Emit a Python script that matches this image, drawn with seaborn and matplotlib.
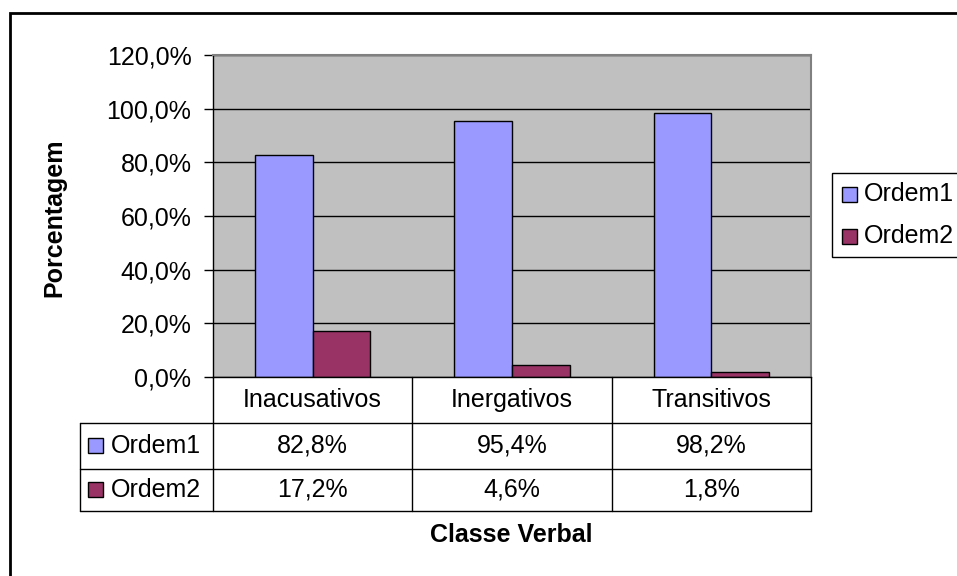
import numpy as np
import pandas as pd
import matplotlib
matplotlib.use("Agg")
import matplotlib.pyplot as plt
import matplotlib.transforms as mtransforms
from matplotlib.patches import Rectangle
from matplotlib.ticker import FuncFormatter, MultipleLocator
import seaborn as sns

# data
classes = ["Inacusativos", "Inergativos", "Transitivos"]
series = ["Ordem1", "Ordem2"]
ordem1 = [82.8, 95.4, 98.2]
ordem2 = [17.2, 4.6, 1.8]
colors = ["#9999FF", "#993366"]

df = pd.DataFrame({
    "classe": classes * 2,
    "ordem": [series[0]] * 3 + [series[1]] * 3,
    "valor": ordem1 + ordem2,
})

sns.set_style("white")
plt.rcParams["font.family"] = ["Liberation Sans", "DejaVu Sans"]
plt.rcParams["text.color"] = "black"
plt.rcParams["ytick.color"] = "black"
plt.rcParams["xtick.color"] = "black"

FS = 18
W, H = 957, 576
fig = plt.figure(figsize=(W / 100, H / 100), dpi=100)


def fx(x):
    return x / W


def fy(y):
    return 1 - y / H


# plot area in pixels: x 213..811, y 55..377
ax = fig.add_axes([fx(213), fy(377), fx(811) - fx(213), fy(55) - fy(377)])
ax.set_facecolor("#C0C0C0")

sns.barplot(data=df, x="classe", y="valor", hue="ordem", hue_order=series,
            palette=colors, width=0.58, edgecolor="black", linewidth=1.0,
            saturation=1, legend=False, ax=ax)

ax.set_ylim(0, 120)
ax.set_xlim(-0.5, 2.5)
ax.yaxis.set_major_locator(MultipleLocator(20))
ax.yaxis.set_major_formatter(FuncFormatter(lambda v, p: f"{v:.1f}%".replace(".", ",")))
ax.tick_params(axis="y", direction="out", length=6.5, width=1, color="black",
               labelsize=FS, labelcolor="black", pad=9, left=True)
ax.tick_params(axis="x", bottom=False, labelbottom=False)
ax.set_xlabel("")
ax.set_ylabel("")
ax.yaxis.grid(True, color="black", linewidth=1)
ax.set_axisbelow(True)
for side in ["top", "right"]:
    ax.spines[side].set_color("#808080")
    ax.spines[side].set_linewidth(1.5)
ax.spines["left"].set_color("black")
ax.spines["left"].set_linewidth(1)
ax.spines["bottom"].set_color("black")
ax.spines["bottom"].set_linewidth(1)

# ---- data table below the plot ----
blend = mtransforms.blended_transform_factory(ax.transData, fig.transFigure)
ftr = fig.transFigure
line_kw = dict(color="black", linewidth=1, clip_on=False)

# horizontal lines
for yy in [423, 469, 511]:
    fig.add_artist(plt.Line2D([fx(80), fx(811)], [fy(yy), fy(yy)], transform=ftr, **line_kw))
# vertical lines at column boundaries
for xb in np.arange(len(classes) + 1) - 0.5:
    fig.add_artist(plt.Line2D([xb, xb], [fy(377), fy(511)], transform=blend, **line_kw))
fig.add_artist(plt.Line2D([fx(80), fx(80)], [fy(423), fy(511)], transform=ftr, **line_kw))

for i, c in enumerate(classes):
    fig.text(i, fy(400), c, transform=blend, ha="center", va="center", fontsize=FS)
    fig.text(i, fy(446), f"{ordem1[i]:.1f}%".replace(".", ","), transform=blend,
             ha="center", va="center", fontsize=FS)
    fig.text(i, fy(490), f"{ordem2[i]:.1f}%".replace(".", ","), transform=blend,
             ha="center", va="center", fontsize=FS)

for name, col, yc in zip(series, colors, [446, 490]):
    fig.add_artist(Rectangle((fx(88), fy(yc + 7)), fx(15), fy(0) - fy(15),
                             transform=ftr, facecolor=col, edgecolor="black", linewidth=1))
    fig.text(fx(111), fy(yc), name, ha="left", va="center", fontsize=FS)

# axis titles
fig.text(fx(511), fy(535), "Classe Verbal", ha="center", va="center",
         fontsize=FS, fontweight="bold")
fig.text(fx(54), fy(218), "Porcentagem", ha="center", va="center",
         rotation=90, fontsize=FS, fontweight="bold")

# legend on the right
fig.add_artist(Rectangle((fx(832), fy(257)), fx(200), fy(173) - fy(257),
                         transform=ftr, facecolor="white", edgecolor="black", linewidth=1))
for name, col, yc in zip(series, colors, [194, 236]):
    fig.add_artist(Rectangle((fx(842), fy(yc + 8)), fx(15), fy(0) - fy(15),
                             transform=ftr, facecolor=col, edgecolor="black", linewidth=1))
    fig.text(fx(864), fy(yc), name, ha="left", va="center", fontsize=FS)

# outer chart border
fig.add_artist(Rectangle((fx(10), fy(600)), fx(1000), fy(13) - fy(600),
                         transform=ftr, facecolor="none", edgecolor="black", linewidth=2))

fig.savefig("out.png", dpi=100)
